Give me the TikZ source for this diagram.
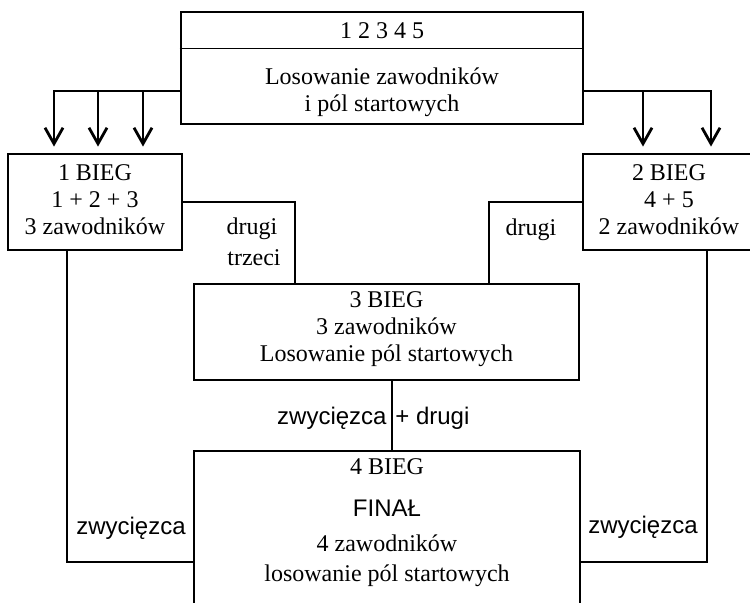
\documentclass[tikz,border=0pt]{standalone}
\usepackage{fontspec}
\setmainfont{Liberation Serif}
\setsansfont{Liberation Sans}
\usetikzlibrary{arrows.meta}
\tikzset{
  box/.style={draw, line width=1.4pt, rectangle, inner sep=0pt, minimum height=48pt},
  txt/.style={align=center, inner sep=0pt, font=\fontsize{12}{13.5}\selectfont},
  stxt/.style={inner sep=0pt, font=\sffamily\fontsize{12}{13.5}\selectfont},
  conn/.style={line width=1.4pt},
  arr/.style={line width=1.4pt, -{Straight Barb[length=8pt,width=9pt,line width=1.4pt]}, shorten >=3pt},
}
\begin{document}
\begin{tikzpicture}[x=0.5pt,y=-0.5pt]
\clip (0,0) rectangle (750,603);
% helper coordinates
\coordinate (y91) at (0,91);
\coordinate (y562) at (0,562);
\coordinate (x54) at (54,0);
\coordinate (x98) at (98,0);
\coordinate (x143) at (143,0);
\coordinate (x643) at (643,0);
\coordinate (x711) at (711,0);
\coordinate (x295) at (295,0);
\coordinate (x489) at (489,0);
\coordinate (x67) at (67,0);
\coordinate (x707) at (707,0);
\coordinate (x392) at (392,0);
% boxes
\node[box, minimum width=201pt, minimum height=56pt] (top) at (382,68) {};
\draw[line width=0.6pt] ([yshift=-19pt]top.north west) -- ([yshift=-19pt]top.north east);
\node[txt] (hdr) at (382,31) {1 2 3 4 5};
\node[txt] (body) at (382,92) {Losowanie zawodników\\i pól startowych};
\node[box, minimum width=87pt] (b1) at (95,202) {};
\node[txt] (t1) at (95,200) {1 BIEG\\1 + 2 + 3\\3 zawodników};
\node[box, minimum width=86pt] (b2) at (669,202) {};
\node[txt] (t2) at (669,200) {2 BIEG\\4 + 5\\2 zawodników};
\node[box, minimum width=192.5pt] (b3) at (386.5,332) {};
\node[txt] (t3) at (386.5,329) {3 BIEG\\3 zawodników\\Losowanie pól startowych};
\node[box, minimum width=193pt, minimum height=94pt] (b4) at (387,545) {};
\node[txt] (t4a) at (387,467) {4 BIEG};
\node[stxt] (t4b) at (387,508) {FINAŁ};
\node[txt, font=\fontsize{12}{15}\selectfont] (t4c) at (387,561) {4 zawodników\\losowanie pól startowych};
% arrows from top box
\draw[arr] (top.west |- y91) -| (b1.north -| x54);
\draw[arr] (x98 |- y91) -- (b1.north -| x98);
\draw[arr] (x143 |- y91) -- (b1.north -| x143);
\draw[arr] (top.east |- y91) -| (b2.north -| x711);
\draw[arr] (x643 |- y91) -- (b2.north -| x643);
% connectors to box 3
\draw[conn] (b1.east) -| (b3.north -| x295);
\draw[conn] (b2.west) -| (b3.north -| x489);
% connectors to box 4
\draw[conn] (b1.south -| x67) |- (b4.west |- y562);
\draw[conn] (b2.south -| x707) |- (b4.east |- y562);
\draw[conn] (b3.south -| x392) -- (b4.north -| x392);
% labels
\node[txt] (l1) at (252,229) {drugi};
\node[txt] (l2) at (254,258) {trzeci};
\node[txt] (l3) at (531,230) {drugi};
\node[stxt] (l4) at (131,528) {zwycięzca};
\node[stxt] (l5) at (643,527) {zwycięzca};
\node[stxt, anchor=east] (l6) at (387,418) {zwycięzca};
\node[stxt, anchor=west] (l7) at (395,418) {+ drugi};
\end{tikzpicture}
\end{document}
